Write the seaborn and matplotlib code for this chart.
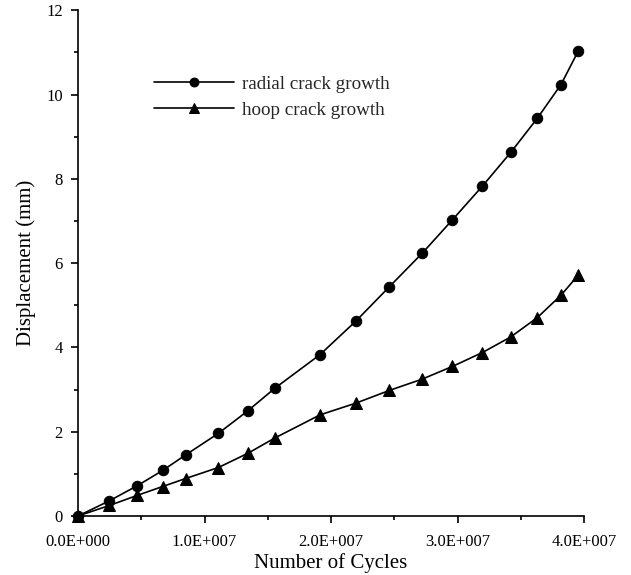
import numpy as np
import pandas as pd
import matplotlib
matplotlib.use("Agg")
import matplotlib.pyplot as plt
import seaborn as sns
from matplotlib.ticker import MultipleLocator, FuncFormatter

sns.set_theme(style="ticks")
plt.rcParams['font.family'] = ['Liberation Serif', 'DejaVu Serif']

# cycles (x 1e7)
cycles = [0.0, 0.248, 0.469, 0.669, 0.851, 1.109, 1.344, 1.555, 1.913,
          2.198, 2.461, 2.722, 2.960, 3.197, 3.421, 3.631, 3.818, 3.955]
radial = [0.0, 0.36, 0.72, 1.08, 1.45, 1.96, 2.50, 3.03, 3.83,
          4.63, 5.44, 6.24, 7.03, 7.83, 8.63, 9.44, 10.24, 11.04]
hoop = [0.0, 0.25, 0.49, 0.70, 0.89, 1.15, 1.49, 1.85, 2.40,
        2.68, 2.98, 3.25, 3.55, 3.88, 4.25, 4.71, 5.24, 5.72]

df = pd.DataFrame({"cycles": np.array(cycles) * 1e7,
                   "radial": radial, "hoop": hoop})

fig = plt.figure(figsize=(6.31, 5.75), dpi=100)
ax = fig.add_axes([0.1236, 0.1026, 0.802, 0.8794])

sns.lineplot(data=df, x="cycles", y="radial", ax=ax, color="black",
             marker="o", markersize=7.5, markeredgecolor="black", lw=1.2,
             label="radial crack growth", clip_on=False)
sns.lineplot(data=df, x="cycles", y="hoop", ax=ax, color="black",
             marker="^", markersize=8, markeredgecolor="black", lw=1.2,
             label="hoop crack growth", clip_on=False)

ax.set_xlim(0, 4e7)
ax.set_ylim(0, 12)
ax.xaxis.set_major_locator(MultipleLocator(1e7))
ax.xaxis.set_minor_locator(MultipleLocator(5e6))
ax.yaxis.set_major_locator(MultipleLocator(2))
ax.yaxis.set_minor_locator(MultipleLocator(1))
ax.xaxis.set_major_formatter(FuncFormatter(lambda v, p: f"{v/1e7:.1f}E+{7 if v > 0 else 0:03d}"))
ax.yaxis.set_major_formatter(FuncFormatter(lambda v, p: f"{v:.0f}"))
ax.tick_params(which="major", direction="out", length=5, width=1.2,
               labelsize=12, color="black", labelcolor="black", pad=8)
ax.tick_params(axis="y", which="major", pad=6)
ax.tick_params(which="minor", direction="out", length=3, width=1.2, color="black")
sns.despine(ax=ax)
for s in ["left", "bottom"]:
    ax.spines[s].set_linewidth(1.2)
    ax.spines[s].set_color("black")

ax.set_xlabel("Number of Cycles", fontsize=15, color="black", labelpad=2)
ax.set_ylabel("Displacement (mm)", fontsize=15, color="black", labelpad=7)

leg = ax.legend(loc="upper left", bbox_to_anchor=(0.117, 0.905), frameon=False,
                fontsize=13.7, handlelength=4.2, handletextpad=0.4,
                labelspacing=0.45, markerscale=0.85)

fig.savefig("out.png", dpi=100)
